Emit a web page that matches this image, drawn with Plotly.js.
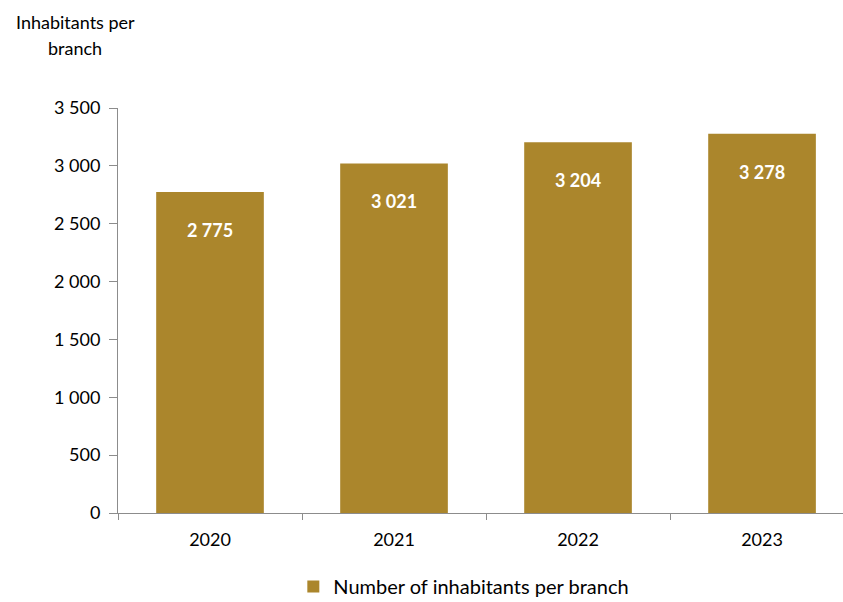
<!DOCTYPE html>
<html><head><meta charset="utf-8">
<script src="https://cdn.plot.ly/plotly-3.0.1.min.js"></script>
<style>body{margin:0;background:#fff}#chart{width:843px;height:602px}</style>
</head><body><div id="chart"></div>
<script>
const years = ["2020", "2021", "2022", "2023"];
const inhabitantsPerBranch = [2775, 3021, 3204, 3278];
const seriesName = "Number of inhabitants per branch";
const yTitleLines = ["Inhabitants per", "branch"];
const yTickVals = [0, 500, 1000, 1500, 2000, 2500, 3000, 3500];
const yTickText = ["0", "500", "1 000", "1 500", "2 000", "2 500", "3 000", "3 500"];

const fmt = v => String(v).replace(/\B(?=(\d{3})+(?!\d))/g, " ");
const FONT = "Lato, 'Open Sans', sans-serif";
const BAR = "#AB862C";

const trace = {
  type: "bar", x: years, y: inhabitantsPerBranch, name: seriesName,
  marker: {color: BAR}, width: 0.585, showlegend: true, hoverinfo: "none"
};

const annotations = years.map((y, i) => ({
  x: i, y: inhabitantsPerBranch[i], xref: "x", yref: "y",
  text: "<b>" + fmt(inhabitantsPerBranch[i]) + "</b>", showarrow: false,
  xanchor: "center", yanchor: "middle",
  yshift: -38, font: {family: FONT, size: 18, color: "#ffffff"}
}));
const titleY = [1.212, 1.148];
yTitleLines.forEach((t, i) => annotations.push({
  xref: "paper", yref: "paper", x: -0.059, y: titleY[i], xanchor: "center", yanchor: "middle",
  text: t, showarrow: false, font: {family: FONT, size: 18, color: "#000"}
}));

const layout = {
  width: 843, height: 602,
  margin: {l: 118, r: 0, t: 108, b: 89},
  paper_bgcolor: "#fff", plot_bgcolor: "#fff",
  font: {family: FONT, size: 18, color: "#000"},
  xaxis: {
    type: "category", range: [-0.5, 3.44], showgrid: false, automargin: false,
    showline: true, linecolor: "#8c8c8c", linewidth: 1, ticklabelstandoff: 10,
    ticks: "outside", tickson: "boundaries", ticklen: 6, tickcolor: "#8c8c8c",
    tickfont: {family: FONT, size: 18, color: "#000"}, zeroline: false
  },
  yaxis: {
    range: [0, 3500], tickvals: yTickVals, ticktext: yTickText, showgrid: false, automargin: false,
    showline: true, linecolor: "#8c8c8c", linewidth: 1, ticklabelstandoff: 5,
    ticks: "outside", ticklen: 8, tickcolor: "#8c8c8c", zeroline: false,
    tickfont: {family: FONT, size: 18, color: "#000"}
  },
  showlegend: true,
  legend: {orientation: "h", x: 0.477, xanchor: "center", yref: "container", y: 0.058, yanchor: "top",
    font: {family: FONT, size: 20, color: "#000"}},
  annotations: annotations
};
Plotly.newPlot("chart", [trace], layout, {staticPlot: true});
</script></body></html>
